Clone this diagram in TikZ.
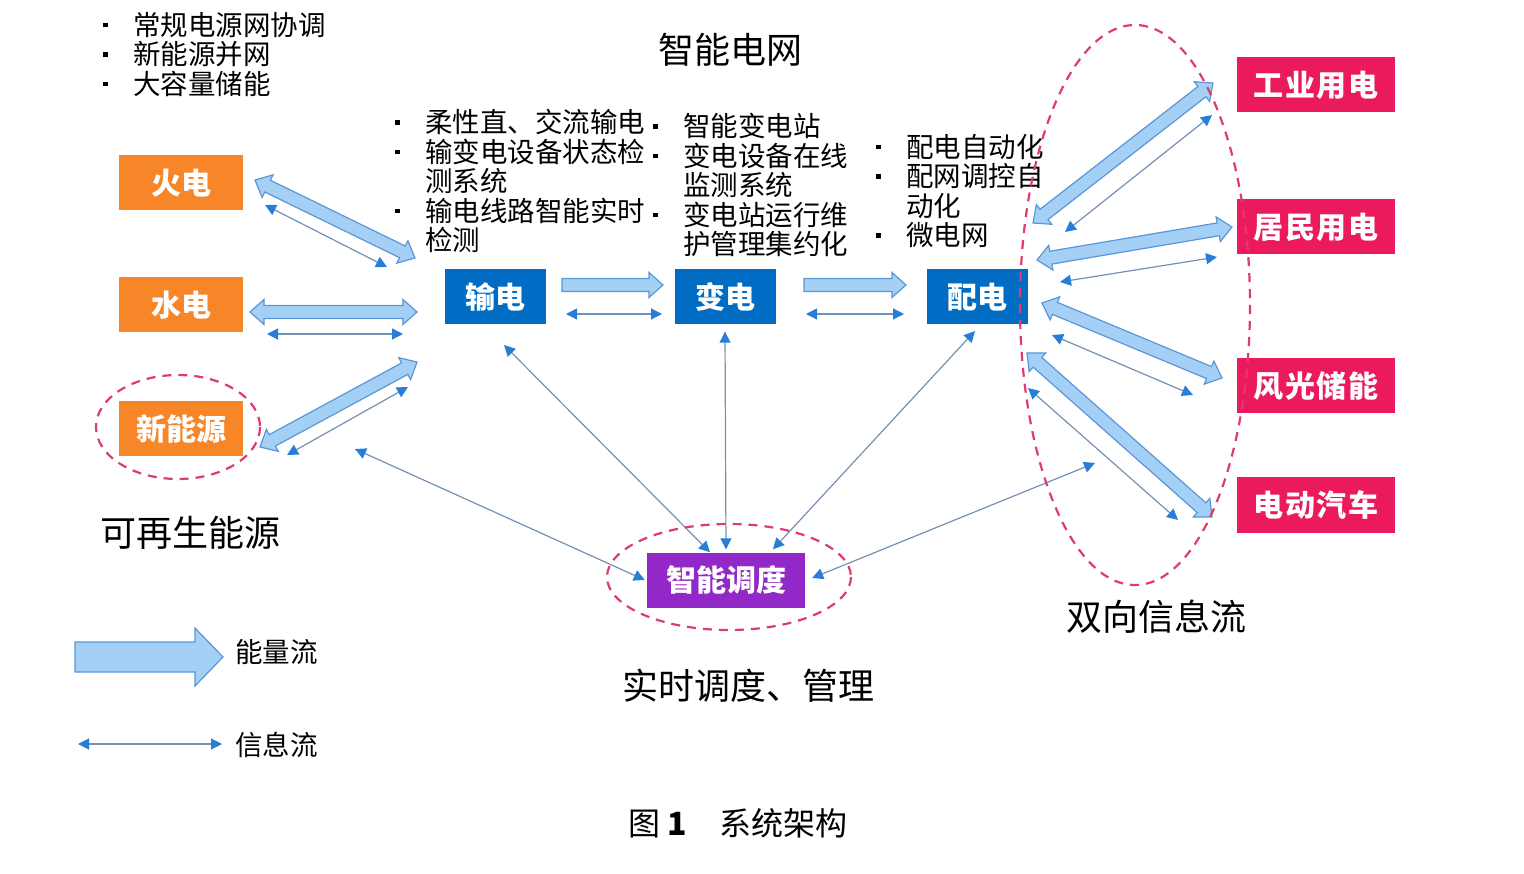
\documentclass[tikz,border=0pt]{standalone}
\usepackage{fontspec}
\newfontfamily\cjk{Noto Sans CJK SC}
\usetikzlibrary{
  arrows.meta,
  calc,
  positioning
}
\definecolor{fireorange}{RGB}{246,134,40}
\definecolor{gridblue}{RGB}{0,108,196}
\definecolor{userred}{RGB}{234,26,92}
\definecolor{dispatchpurple}{RGB}{146,40,200}
\definecolor{ringred}{RGB}{222,60,110}
\definecolor{flowfill}{RGB}{165,208,245}
\definecolor{flowedge}{RGB}{90,150,215}
\definecolor{infoline}{RGB}{115,145,180}
\definecolor{infohead}{RGB}{40,125,215}
\tikzset{
  box/.style={
    inner sep=0pt,
    minimum height=55pt,
    text=white,
    font=\cjk\fontsize{30}{30}\selectfont\bfseries
  },
  source/.style={box, fill=fireorange, minimum width=124pt},
  gridbox/.style={box, fill=gridblue, minimum width=101pt},
  user/.style={box, fill=userred, minimum width=158pt},
  dispatch/.style={box, fill=dispatchpurple, minimum width=158pt},
  ring/.style={draw=ringred, line width=2.2pt, dash pattern=on 9pt off 7pt},
  energy/.style={fill=flowfill, draw=flowedge, line width=1.2pt, line join=miter},
  info/.style={
    draw=infoline,
    line width=1.2pt,
    {Triangle[length=11pt,width=11pt,color=infohead]}-{Triangle[length=11pt,width=11pt,color=infohead]}
  },
  note/.style={inner sep=0pt, anchor=north west, align=left,
    font=\cjk\fontsize{27.5}{29.5}\selectfont},
  tag/.style={inner sep=0pt, font=\cjk\fontsize{36}{36}\selectfont}
}
\newcommand\dotitem{\makebox[30pt][l]{\raisebox{8pt}{\rule{4.5pt}{4.5pt}}}}
\newcommand\dotskip{\hspace*{30pt}}
% block arrows between two named points
\newcommand\twoway[2]{%
  \path[energy] let \p1=($(#2)-(#1)$), \n1={atan2(\y1,\x1)}, \n2={veclen(\x1,\y1)} in
    [shift={(#1)}, rotate=\n1] (0,0) -- (14,12.5) -- (14,6.5) -- (\n2-14,6.5) -- (\n2-14,12.5)
    -- (\n2,0) -- (\n2-14,-12.5) -- (\n2-14,-6.5) -- (14,-6.5) -- (14,-12.5) -- cycle;}
\newcommand\oneway[2]{%
  \path[energy] let \p1=($(#2)-(#1)$), \n1={atan2(\y1,\x1)}, \n2={veclen(\x1,\y1)} in
    [shift={(#1)}, rotate=\n1] (0,6.5) -- (\n2-14,6.5) -- (\n2-14,12.5)
    -- (\n2,0) -- (\n2-14,-12.5) -- (\n2-14,-6.5) -- (0,-6.5) -- cycle;}

\begin{document}
\begin{tikzpicture}[x=1pt, y=-1pt]
\useasboundingbox (0,0) rectangle (1524,874);

\node[note] (tips) at (103,12) {\dotitem 常规电源网协调\\ \dotitem 新能源并网\\ \dotitem 大容量储能};
\node[tag] (title) at (730,50) {智能电网};
\node[note] (shunote) at (395,109) {\dotitem 柔性直、交流输电\\ \dotitem 输变电设备状态检\\
  \dotskip 测系统\\ \dotitem 输电线路智能实时\\ \dotskip 检测};
\node[note] (biannote) at (653,113) {\dotitem 智能变电站\\ \dotitem 变电设备在线\\
  \dotskip 监测系统\\ \dotitem 变电站运行维\\ \dotskip 护管理集约化};
\node[note] (peinote) at (876,134) {\dotitem 配电自动化\\ \dotitem 配网调控自\\
  \dotskip 动化\\ \dotitem 微电网};

\node[source] (huo) at (181,183) {火电};
\node[source] (shui) at (181,305) {水电};
\node[source] (xin) at (181,429) {新能源};
\node[gridbox] (shu) at (495,297) {输电};
\node[gridbox] (bian) at (725,297) {变电};
\node[gridbox] (pei) at (977,297) {配电};
\foreach \n/\y/\t in {gy/85/工业用电, jm/227/居民用电, fg/386/风光储能, dd/505/电动汽车}
  \node[user] (\n) at (1316,\y) {\addfontfeature{LetterSpace=6}\t};
\node[dispatch] (dis) at (726,580) {智能调度};

\node[tag] (renew) at (190,533) {可再生能源};
\node[tag] (realtime) at (748,686) {实时调度、管理};
\node[tag] (twoinfo) at (1156,617) {双向信息流};

\foreach \n/\x/\y in {
  e1/255/180, e2/415/258, e3/250/312, e4/417/312, e5/260/447, e6/417/362,
  e7/562/285, e8/663/285, e9/804/285, e10/906/285,
  e11/1033/223, e12/1213/83, e13/1037/260, e14/1232/227,
  e15/1042/303, e16/1222/378, e17/1027/353, e18/1212/517,
  i1/265/205, i2/387/267, i3/267/334, i4/403/334, i5/287/455, i6/408/387,
  i7/566/314, i8/662/314, i9/806/314, i10/904/314,
  i11/1065/232, i12/1212/115, i13/1060/282, i14/1217/257,
  i15/1052/335, i16/1193/395, i17/1028/388, i18/1178/520,
  d1/504/345, d2/975/331, d3/355/449, d4/1095/463}
  \coordinate (\n) at (\x,\y);

\twoway{e1}{e2}
\twoway{e3}{e4}
\twoway{e5}{e6}
\oneway{e7}{e8}
\oneway{e9}{e10}
\twoway{e11}{e12}
\twoway{e13}{e14}
\twoway{e15}{e16}
\twoway{e17}{e18}

\foreach \a/\b in {i1/i2, i3/i4, i5/i6, i7/i8, i9/i10, i11/i12, i13/i14, i15/i16, i17/i18}
  \draw[info] (\a) -- (\b);
\draw[info] (d1) -- ([xshift=-16]dis.north);
\draw[info] ([yshift=-7]bian.south) -- ([yshift=3]dis.north);
\draw[info] (d2) -- ([xshift=47,yshift=3]dis.north);
\draw[info] (d3) -- ([xshift=-2]dis.west);
\draw[info] (d4) -- ([xshift=7,yshift=2]dis.east);

\draw[ring] (178,427) ellipse [x radius=82, y radius=52];
\draw[ring] (729,577) ellipse [x radius=122, y radius=53];
\draw[ring] (1135,305) ellipse [x radius=115, y radius=280];

\path[energy] (75,642) -- (195,642) -- (195,628) -- (223,657) -- (195,686) -- (195,672)
  -- (75,672) -- cycle;
\node[note, anchor=west] (enlabel) at (235,652) {能量流};
\coordinate (l1) at (78,744);
\coordinate (l2) at (222,744);
\draw[info] (l1) -- (l2);
\node[note, anchor=west] (inlabel) at (235,745) {信息流};

\node[inner sep=0pt, font=\cjk\fontsize{32}{32}\selectfont] (cap) at (738,823)
  {图 \textbf{1}\quad 系统架构};
\end{tikzpicture}
\end{document}
